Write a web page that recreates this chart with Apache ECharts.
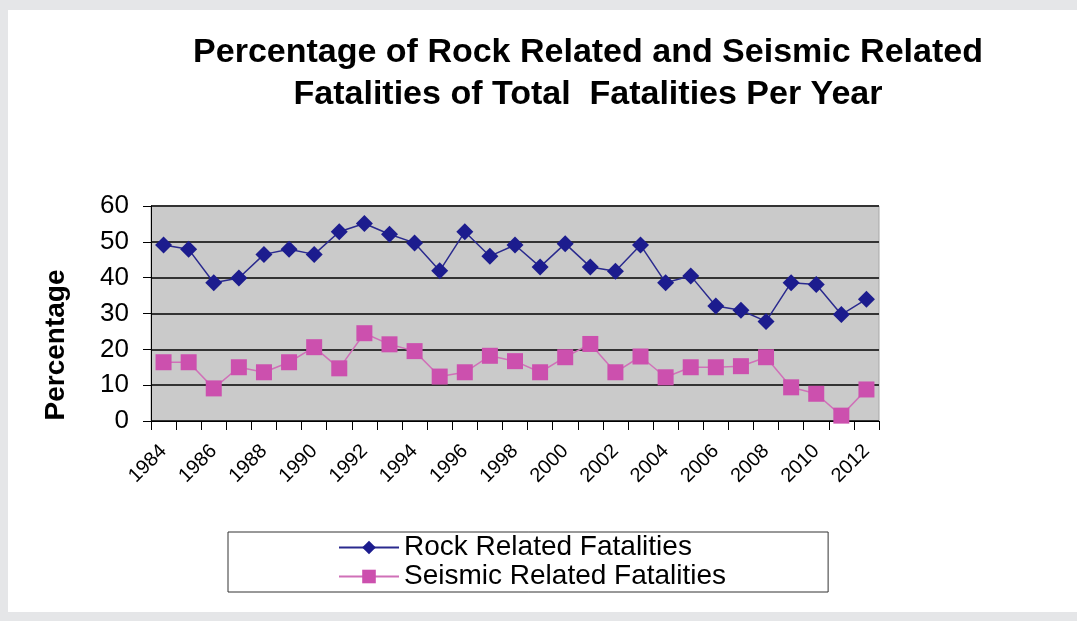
<!DOCTYPE html>
<html>
<head>
<meta charset="utf-8">
<script src="https://cdn.jsdelivr.net/npm/echarts@6/dist/echarts.min.js"></script>
<style>
html,body{margin:0;padding:0;background:#e5e6e8;}
#c{position:absolute;left:8px;top:10px;width:1069px;height:602px;background:#fff;}
</style>
</head>
<body>
<div id="c"></div>
<script>
var years = ['1984','1985','1986','1987','1988','1989','1990','1991','1992','1993','1994','1995','1996','1997','1998','1999','2000','2001','2002','2003','2004','2005','2006','2007','2008','2009','2010','2011','2012'];
var rockRelated = [49.1,47.9,38.6,39.9,46.5,47.9,46.5,52.8,55.1,52.1,49.7,41.9,52.8,46.0,49.1,43.0,49.5,43.0,41.8,49.1,38.6,40.5,32.1,30.9,27.8,38.6,38.1,29.7,34.0];
var seismicRelated = [16.4,16.4,9.1,15.0,13.6,16.4,20.6,14.7,24.5,21.4,19.5,12.4,13.6,18.2,16.7,13.6,17.8,21.5,13.6,18.0,12.2,15.0,15.0,15.3,17.8,9.4,7.6,1.5,8.8];
var yTicks = [0,10,20,30,40,50,60];

var chart = echarts.init(document.getElementById('c'), null, {renderer:'canvas'});
var ff = '"Liberation Sans", Arial, sans-serif';
chart.setOption({
  backgroundColor: '#ffffff',
  animation: false,
  title: {
    text: 'Percentage of Rock Related and Seismic Related\nFatalities of Total  Fatalities Per Year',
    left: 575, top: 17, textAlign: 'center',
    textStyle: {fontFamily: ff, fontSize: 34, fontWeight: 'bold', color: '#000', lineHeight: 42}
  },
  graphic: [{
    type: 'text', x: 48, y: 335, rotation: Math.PI / 2,
    style: {text: 'Percentage', fontFamily: ff, fontSize: 28, fontWeight: 'bold', fill: '#000', align: 'center', verticalAlign: 'middle'}
  }],
  legend: {
    orient: 'vertical',
    left: 220, top: 522,
    padding: [1, 102, 1, 110],
    itemGap: 0,
    itemWidth: 60, itemHeight: 17,
    borderColor: '#333', borderWidth: 1,
    textStyle: {fontFamily: ff, fontSize: 28, color: '#000', lineHeight: 29},
    data: ['Rock Related Fatalities','Seismic Related Fatalities']
  },
  grid: {left: 143, right: 198, top: 196, bottom: 191, show: true, backgroundColor: '#cacaca', borderColor: '#a8a8a8', borderWidth: 1},
  xAxis: {
    type: 'category', data: years, boundaryGap: true,
    axisLine: {show: true, lineStyle: {color: '#000', width: 1}},
    axisTick: {show: true, interval: 0, length: 9, lineStyle: {color: '#000'}},
    axisLabel: {interval: 1, rotate: 45, margin: 27, fontFamily: ff, fontSize: 20, color: '#000'}
  },
  yAxis: {
    type: 'value', min: 0, max: 60, interval: 10,
    axisLine: {show: true, lineStyle: {color: '#000', width: 1}},
    axisTick: {show: true, length: 8, inside: false, lineStyle: {color: '#000'}},
    axisLabel: {margin: 22, fontFamily: ff, fontSize: 26, color: '#000',
      formatter: function(v){ return yTicks.indexOf(v) >= 0 ? String(v) : ''; }},
    splitLine: {show: true, lineStyle: {color: '#333', width: 2}}
  },
  series: [
    {name: 'Rock Related Fatalities', type: 'line', data: rockRelated,
     symbol: 'diamond', symbolSize: 17, showAllSymbol: true,
     itemStyle: {color: '#1c1c8e'}, lineStyle: {color: '#2a2a8e', width: 1.5}},
    {name: 'Seismic Related Fatalities', type: 'line', data: seismicRelated,
     symbol: 'rect', symbolSize: 16, showAllSymbol: true,
     itemStyle: {color: '#cc50ae'}, lineStyle: {color: '#d070b8', width: 1.5}}
  ]
});
</script>
</body>
</html>
